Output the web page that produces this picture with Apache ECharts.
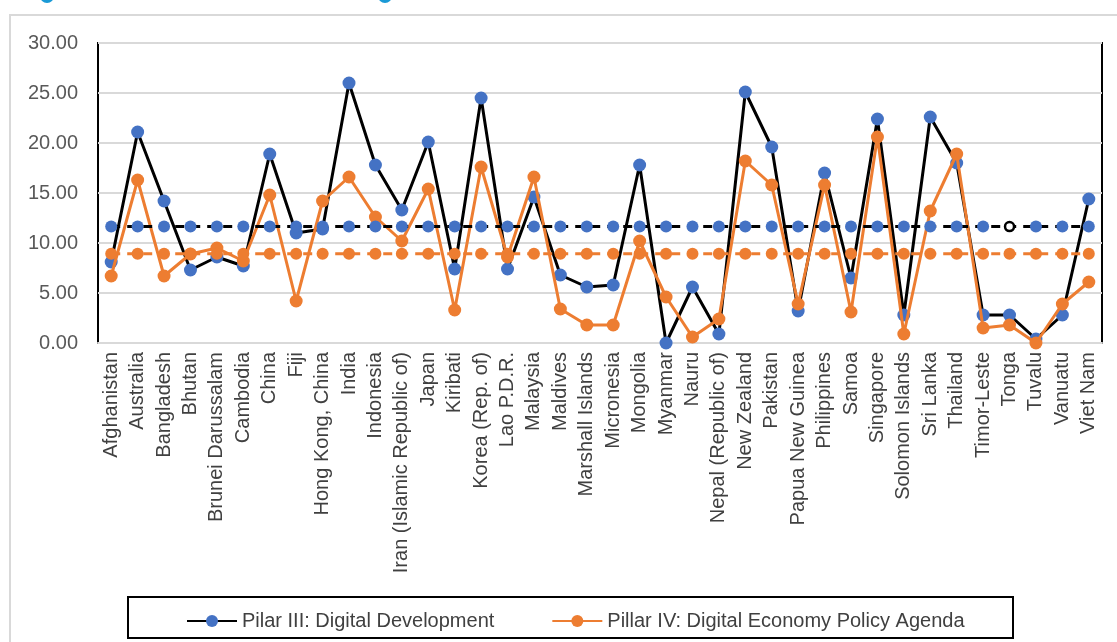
<!DOCTYPE html>
<html>
<head>
<meta charset="utf-8">
<title>Digital Development and Digital Economy Policy Agenda</title>
<script src="https://cdn.jsdelivr.net/npm/echarts@6/dist/echarts.min.js"></script>
<style>
  html, body { margin: 0; padding: 0; background: #ffffff; }
  #chart { width: 1117px; height: 642px; }
</style>
</head>
<body>
<div id="chart"></div>
<script>
// Economies on the category axis
const countries = [
  'Afghanistan', 'Australia', 'Bangladesh', 'Bhutan', 'Brunei Darussalam', 'Cambodia',
  'China', 'Fiji', 'Hong Kong, China', 'India', 'Indonesia', 'Iran (Islamic Republic of)',
  'Japan', 'Kiribati', 'Korea (Rep. of)', 'Lao P.D.R.', 'Malaysia', 'Maldives',
  'Marshall Islands', 'Micronesia', 'Mongolia', 'Myanmar', 'Nauru', 'Nepal (Republic of)',
  'New Zealand', 'Pakistan', 'Papua New Guinea', 'Philippines', 'Samoa', 'Singapore',
  'Solomon Islands', 'Sri Lanka', 'Thailand', 'Timor-Leste', 'Tonga', 'Tuvalu',
  'Vanuatu', 'Viet Nam'
];

// Pillar III scores
const pillarIII = [
  8.1, 21.1, 14.2, 7.3, 8.6, 7.7,
  18.9, 11.0, 11.4, 26.0, 17.8, 13.3,
  20.1, 7.4, 24.5, 7.4, 14.6, 6.8,
  5.6, 5.8, 17.8, 0.0, 5.6, 0.9,
  25.1, 19.6, 3.2, 17.0, 6.5, 22.4,
  2.8, 22.6, 18.0, 2.8, 2.8, 0.4,
  2.8, 14.4
];

// Pillar IV scores
const pillarIV = [
  6.7, 16.3, 6.7, 8.9, 9.5, 8.2,
  14.8, 4.2, 14.2, 16.6, 12.6, 10.2,
  15.4, 3.3, 17.6, 8.6, 16.6, 3.4,
  1.8, 1.8, 10.2, 4.6, 0.6, 2.4,
  18.2, 15.8, 3.9, 15.8, 3.1, 20.6,
  0.9, 13.2, 18.9, 1.5, 1.8, 0.0,
  3.9, 6.1
];

// Regional averages shown as dashed reference lines
const avgPillarIII = 11.64;
const avgPillarIV = 8.92;

// Value axis ticks
const yTicks = [0, 5, 10, 15, 20, 25, 30];

const BLUE = '#4472C4';
const ORANGE = '#ED7D31';
const FONT = '"Liberation Sans", Arial, sans-serif';

const avgIIIData = countries.map((c) => {
  if (c === 'Tonga') {
    return { value: avgPillarIII, itemStyle: { color: '#ffffff', borderColor: '#000000', borderWidth: 2.5 }, symbolSize: 9 };
  }
  return avgPillarIII;
});
const avgIVData = countries.map(() => avgPillarIV);

const chart = echarts.init(document.getElementById('chart'), null, { renderer: 'canvas' });

chart.setOption({
  animation: false,
  backgroundColor: '#ffffff',
  textStyle: { fontFamily: FONT },
  grid: {
    left: 98, right: 15, top: 43, bottom: 299,
    show: true, borderColor: '#000000', borderWidth: 2, backgroundColor: 'transparent'
  },
  graphic: [
    // outer chart frame
    { type: 'rect', shape: { x: 10, y: 15, width: 1200, height: 700 },
      style: { fill: 'none', stroke: '#d9d9d9', lineWidth: 2 }, z: -1 },
    // legend box
    { type: 'rect', shape: { x: 128, y: 597, width: 885, height: 41 },
      style: { fill: '#ffffff', stroke: '#000000', lineWidth: 2 }, z: 0 },
    // page heading bullets above the frame
    { type: 'circle', shape: { cx: 47, cy: -4, r: 7 }, style: { fill: '#1a9ad6' } },
    { type: 'circle', shape: { cx: 385, cy: -4, r: 7 }, style: { fill: '#1a9ad6' } }
  ],
  legend: {
    data: ['Pilar III: Digital Development', 'Pillar IV: Digital Economy Policy Agenda'],
    left: 181, top: 606,
    itemWidth: 50, itemHeight: 15, itemGap: 57,
    textStyle: { fontFamily: FONT, fontSize: 20, color: '#404040' },
    z: 5
  },
  xAxis: {
    type: 'category',
    data: countries,
    boundaryGap: true,
    axisLine: { show: true, lineStyle: { color: '#d9d9d9', width: 2 } },
    axisTick: { show: false },
    axisLabel: {
      rotate: 90, interval: 0, margin: 9,
      fontFamily: FONT, fontSize: 20, color: '#404040'
    },
    splitLine: { show: false }
  },
  yAxis: {
    type: 'value',
    min: yTicks[0], max: yTicks[yTicks.length - 1], interval: yTicks[1] - yTicks[0],
    axisLine: { show: false },
    axisTick: { show: false },
    axisLabel: {
      margin: 20, fontFamily: FONT, fontSize: 20, color: '#595959',
      formatter: (v) => v.toFixed(2)
    },
    splitLine: { lineStyle: { color: '#d9d9d9', width: 2 } }
  },
  series: [
    {
      name: 'Pilar III: Digital Development',
      type: 'line',
      data: pillarIII,
      symbol: 'circle', symbolSize: 13,
      lineStyle: { color: '#000000', width: 3 },
      itemStyle: { color: BLUE },
      z: 2
    },
    {
      name: 'Pillar IV: Digital Economy Policy Agenda',
      type: 'line',
      data: pillarIV,
      symbol: 'circle', symbolSize: 13,
      lineStyle: { color: ORANGE, width: 3 },
      itemStyle: { color: ORANGE },
      z: 3
    },
    {
      name: 'Average Pillar III',
      type: 'line',
      data: avgIIIData,
      symbol: 'circle', symbolSize: 12,
      lineStyle: { color: '#000000', width: 3, type: [9, 7] },
      itemStyle: { color: BLUE },
      z: 4
    },
    {
      name: 'Average Pillar IV',
      type: 'line',
      data: avgIVData,
      symbol: 'circle', symbolSize: 12,
      lineStyle: { color: ORANGE, width: 3, type: [9, 7] },
      itemStyle: { color: ORANGE },
      z: 4
    }
  ]
});
</script>
</body>
</html>
